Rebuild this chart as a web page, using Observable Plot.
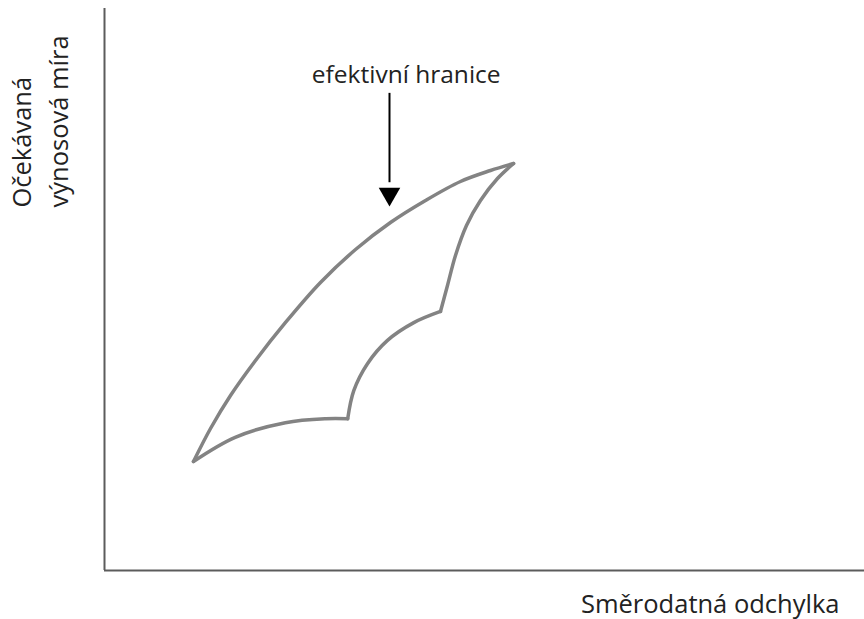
<!DOCTYPE html>
<html>
<head>
<meta charset="utf-8">
<script src="https://cdn.jsdelivr.net/npm/d3@7"></script>
<script src="https://cdn.jsdelivr.net/npm/@observablehq/plot@0.6"></script>
<style>
  html, body { margin: 0; padding: 0; background: #fff; }
</style>
</head>
<body>
<div id="chart"></div>
<script>
// Outline of the feasible set, as four curved edges (risk = σ, ret = E(r))
const frontierRisk = [11.71, 13.95, 16.58, 19.87, 23.82, 28.42, 33.03, 37.63, 42.24, 46.84, 50.79, 53.82];
const frontierRet  = [19.40, 25.27, 31.14, 37.37, 44.13, 51.25, 57.12, 61.92, 65.84, 69.22, 71.17, 72.42];

const rightRisk = [53.82, 51.71, 49.47, 47.63, 46.18, 45.13, 44.21];
const rightRet  = [72.42, 69.75, 65.84, 61.39, 56.05, 50.71, 46.09];

const innerRisk = [44.21, 40.7, 37.2, 34.6, 32.8, 32.0];
const innerRet  = [46.09, 44.1, 40.9, 36.8, 32.0, 27.0];

const bottomRisk = [32.0, 29.1, 23.8, 17.2, 11.71];
const bottomRet  = [27.0, 27.0, 26.3, 23.7, 19.40];

// Annotation arrow pointing at the efficient frontier
const arrowRisk = [37.5];
const arrowTop  = [84.9];
const arrowTip  = [67.0];
const arrowLabel = "efektivní hranice";
const labelRisk = 39.7;
const labelRet  = 86.7;

const xLabel = "Směrodatná odchylka";
const yLabel = "Očekávaná\nvýnosová míra";

const edges = [
  ["frontier", frontierRisk, frontierRet],
  ["right", rightRisk, rightRet],
  ["inner", innerRisk, innerRet],
  ["bottom", bottomRisk, bottomRet]
];
const outline = edges.flatMap(([name, xs, ys]) =>
  xs.map((x, i) => ({edge: name, risk: x, ret: ys[i]})));

const chart = Plot.plot({
  width: 864,
  height: 619,
  marginLeft: 104,
  marginRight: 0,
  marginTop: 8,
  marginBottom: 49,
  style: {fontFamily: "'Open Sans', sans-serif", background: "#fff", color: "#222"},
  x: {domain: [0, 100], axis: null},
  y: {domain: [0, 100], axis: null},
  marks: [
    Plot.ruleX([0], {stroke: "#5c5c5c", strokeWidth: 2}),
    Plot.ruleY([0], {stroke: "#5c5c5c", strokeWidth: 2}),
    Plot.line(outline, {
      x: "risk", y: "ret", z: "edge",
      curve: "catmull-rom",
      stroke: "#838383", strokeWidth: 3.5,
      strokeLinecap: "round", strokeLinejoin: "round"
    }),
    Plot.ruleX(arrowRisk, {x: d => d, y1: arrowTop[0], y2: arrowTip[0] + 2, stroke: "#000", strokeWidth: 2}),
    Plot.dot(arrowRisk, {x: d => d, y: arrowTip[0], symbol: "triangle", rotate: 180, r: 8, fill: "#000", stroke: null}),
    Plot.text([arrowLabel], {x: labelRisk, y: labelRet, text: d => d, fontSize: 24.5, lineAnchor: "bottom", fill: "#222"}),
    Plot.text([xLabel], {frameAnchor: "bottom-right", text: d => d, dx: -25, dy: 42, fontSize: 25.5, lineAnchor: "bottom", textAnchor: "end", fill: "#222"}),
    Plot.text([yLabel], {frameAnchor: "top-left", text: d => d, rotate: -90, dx: -37, dy: 199, fontSize: 25.5, lineAnchor: "bottom", textAnchor: "start", lineHeight: 1.45, fill: "#222"})
  ]
});
document.getElementById("chart").appendChild(chart);
</script>
</body>
</html>
